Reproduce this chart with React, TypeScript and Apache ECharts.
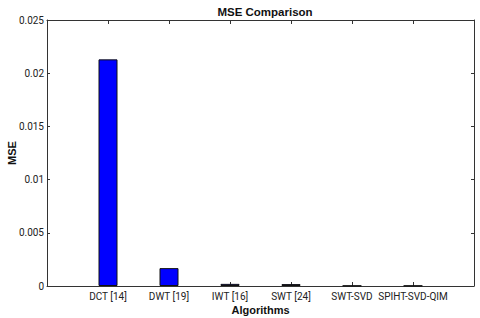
import React, { useEffect, useRef } from "react";
import * as echarts from "echarts";

const categories = ["DCT [14]", "DWT [19]", "IWT [16]", "SWT [24]", "SWT-SVD", "SPIHT-SVD-QIM"];
const mseValues = [0.0213, 0.00168, 0.0002, 0.00018, 0.00003, 0.00003];
const yTickLabels = ["0", "0.005", "0.01", "0.015", "0.02", "0.025"];

const FONT = "Liberation Sans, Arial, sans-serif";
const TICK_FONT = "Roboto, 'Liberation Sans', sans-serif";
const AXIS_COLOR = "#333";

export default function App() {
  const ref = useRef<HTMLDivElement>(null);
  useEffect(() => {
    if (!ref.current) return;
    const chart = echarts.init(ref.current, undefined, { renderer: "svg" });
    const xCommon = {
      type: "value" as const,
      gridIndex: 0,
      min: 0,
      max: 7,
      interval: 1,
      splitLine: { show: false },
      axisLine: { show: true, onZero: false, lineStyle: { color: AXIS_COLOR, width: 1 } },
      axisTick: { show: true, inside: true, length: 4, lineStyle: { color: AXIS_COLOR } },
    };
    const yCommon = {
      type: "value" as const,
      gridIndex: 0,
      min: 0,
      max: 0.025,
      interval: 0.005,
      splitLine: { show: false },
      axisLine: { show: true, onZero: false, lineStyle: { color: AXIS_COLOR, width: 1 } },
      axisTick: { show: true, inside: true, length: 3, lineStyle: { color: AXIS_COLOR } },
    };
    chart.setOption({
      animation: false,
      backgroundColor: "#ffffff",
      title: {
        text: "MSE Comparison",
        left: 260,
        textAlign: "center",
        top: 1,
        textStyle: { fontFamily: FONT, fontSize: 11.5, fontWeight: "bold", color: "#111" },
      },
      grid: {
        left: 47,
        right: 6,
        top: 20,
        bottom: 32,
        containLabel: false,
        outerBoundsMode: "none",
        show: false,
      },
      xAxis: [
        {
          ...xCommon,
          position: "bottom",
          name: "Algorithms",
          nameLocation: "middle",
          nameGap: 18,
          nameMoveOverlap: false,
          nameTextStyle: { fontFamily: FONT, fontSize: 11, fontWeight: "bold", color: "#111" },
          axisLabel: {
            show: true,
            margin: 5,
            fontFamily: TICK_FONT,
            fontSize: 10,
            color: "#222",
            showMinLabel: false,
            showMaxLabel: false,
            formatter: (v: number) => (v >= 1 && v <= categories.length ? categories[v - 1] : ""),
          },
        },
        {
          ...xCommon,
          position: "top",
          axisLabel: { show: false },
        },
      ],
      yAxis: [
        {
          ...yCommon,
          position: "left",
          name: "MSE",
          nameLocation: "middle",
          nameGap: 30,
          nameMoveOverlap: false,
          nameRotate: 90,
          nameTextStyle: { fontFamily: FONT, fontSize: 11, fontWeight: "bold", color: "#111" },
          axisLabel: {
            show: true,
            margin: 3,
            fontFamily: TICK_FONT,
            fontSize: 10,
            color: "#222",
            formatter: (_v: number, i: number) => yTickLabels[i] ?? "",
          },
        },
        {
          ...yCommon,
          position: "right",
          axisLabel: { show: false },
        },
      ],
      series: [
        {
          type: "bar",
          xAxisIndex: 0,
          yAxisIndex: 0,
          barWidth: 19,
          data: mseValues.map((v, i) => [i + 1, v]),
          itemStyle: { color: "#0000ff", borderColor: "#111", borderWidth: 1 },
        },
        {
          type: "line",
          xAxisIndex: 1,
          yAxisIndex: 1,
          data: [],
          silent: true,
        },
      ],
    });
    return () => chart.dispose();
  }, []);
  return (
    <div
      ref={ref}
      style={{ position: "fixed", left: 0, top: 0, width: 480, height: 318, background: "#fff" }}
    />
  );
}
